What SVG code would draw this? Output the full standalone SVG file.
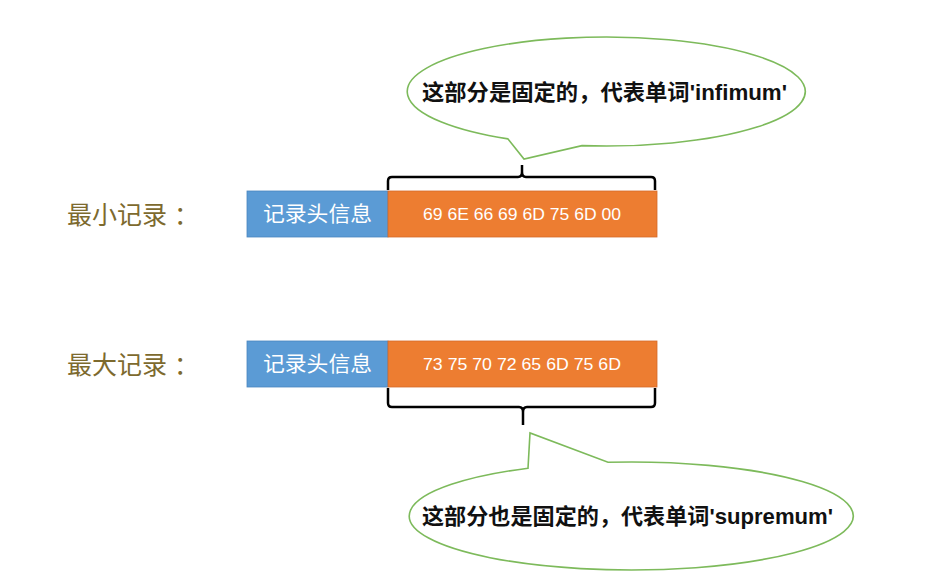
<svg xmlns="http://www.w3.org/2000/svg" width="949" height="588" viewBox="0 0 949 588">
<style>
.lbl{font-family:"Noto Sans CJK SC","Liberation Sans",sans-serif;font-size:25px;fill:#7d6a2e}
.hdr{fill:#5b9bd5;stroke:#4a86bf;stroke-width:0.8}
.dat{fill:#ed7d31;stroke:#d4692a;stroke-width:0.8}
.wt{font-family:"Noto Sans CJK SC","Liberation Sans",sans-serif;font-size:21px;fill:#ffffff;text-anchor:middle}
.hex{font-family:"Liberation Sans","Noto Sans",sans-serif;font-size:17px;fill:#ffffff;text-anchor:middle}
.call{fill:#ffffff;stroke:#7dba5b;stroke-width:1.6}
.ct{font-family:"Liberation Sans","Noto Sans CJK SC",sans-serif;font-size:22px;font-weight:bold;fill:#111111;text-anchor:middle}
.brace{fill:none;stroke:#000000;stroke-width:2.5;stroke-linejoin:round;stroke-linecap:butt}
</style>
<rect width="949" height="588" fill="#ffffff"/>
<g id="label-min"><text class="lbl" x="67" y="224">最小记录<tspan x="174">：</tspan></text></g>
<g id="label-max"><text class="lbl" x="67" y="374">最大记录<tspan x="174">：</tspan></text></g>
<g id="min-header"><rect class="hdr" x="247" y="191" width="141" height="46"/><text class="wt" x="317.5" y="221" textLength="109" lengthAdjust="spacingAndGlyphs">记录头信息</text></g>
<g id="min-data"><rect class="dat" x="388" y="191" width="269" height="46"/><text class="hex" x="522" y="220" textLength="198" lengthAdjust="spacingAndGlyphs">69 6E 66 69 6D 75 6D 00</text></g>
<g id="max-header"><rect class="hdr" x="247" y="341" width="141" height="46"/><text class="wt" x="317.5" y="371" textLength="109" lengthAdjust="spacingAndGlyphs">记录头信息</text></g>
<g id="max-data"><rect class="dat" x="388" y="341" width="269" height="46"/><text class="hex" x="522" y="370" textLength="198" lengthAdjust="spacingAndGlyphs">73 75 70 72 65 6D 75 6D</text></g>
<g id="connectors">
<path class="brace" d="M388,190 V181 Q388,177 392,177 H518 Q522,177 522,172 V165 M522,172 Q522,177 526,177 H651 Q655,177 655,181 V190"/>
<path class="brace" d="M388,388 V403 Q388,407 392,407 H519 Q523,407 523,412 V425 M523,412 Q523,407 527,407 H651 Q655,407 655,403 V388"/>
</g>
<g id="callout-top"><path class="call" d="M508,138.9 L524,159 L582,145.6 A199,54.5 0 1 0 508,138.9 Z"/><text class="ct" x="604.5" y="100" textLength="365" lengthAdjust="spacingAndGlyphs">这部分是固定的，代表单词'infimum'</text></g>
<g id="callout-bottom"><path class="call" d="M528,468.2 L530,433 L608,462.3 A222,54 0 1 1 528,468.2 Z"/><text class="ct" x="627.5" y="524" textLength="411" lengthAdjust="spacingAndGlyphs">这部分也是固定的，代表单词'supremum'</text></g>
</svg>
